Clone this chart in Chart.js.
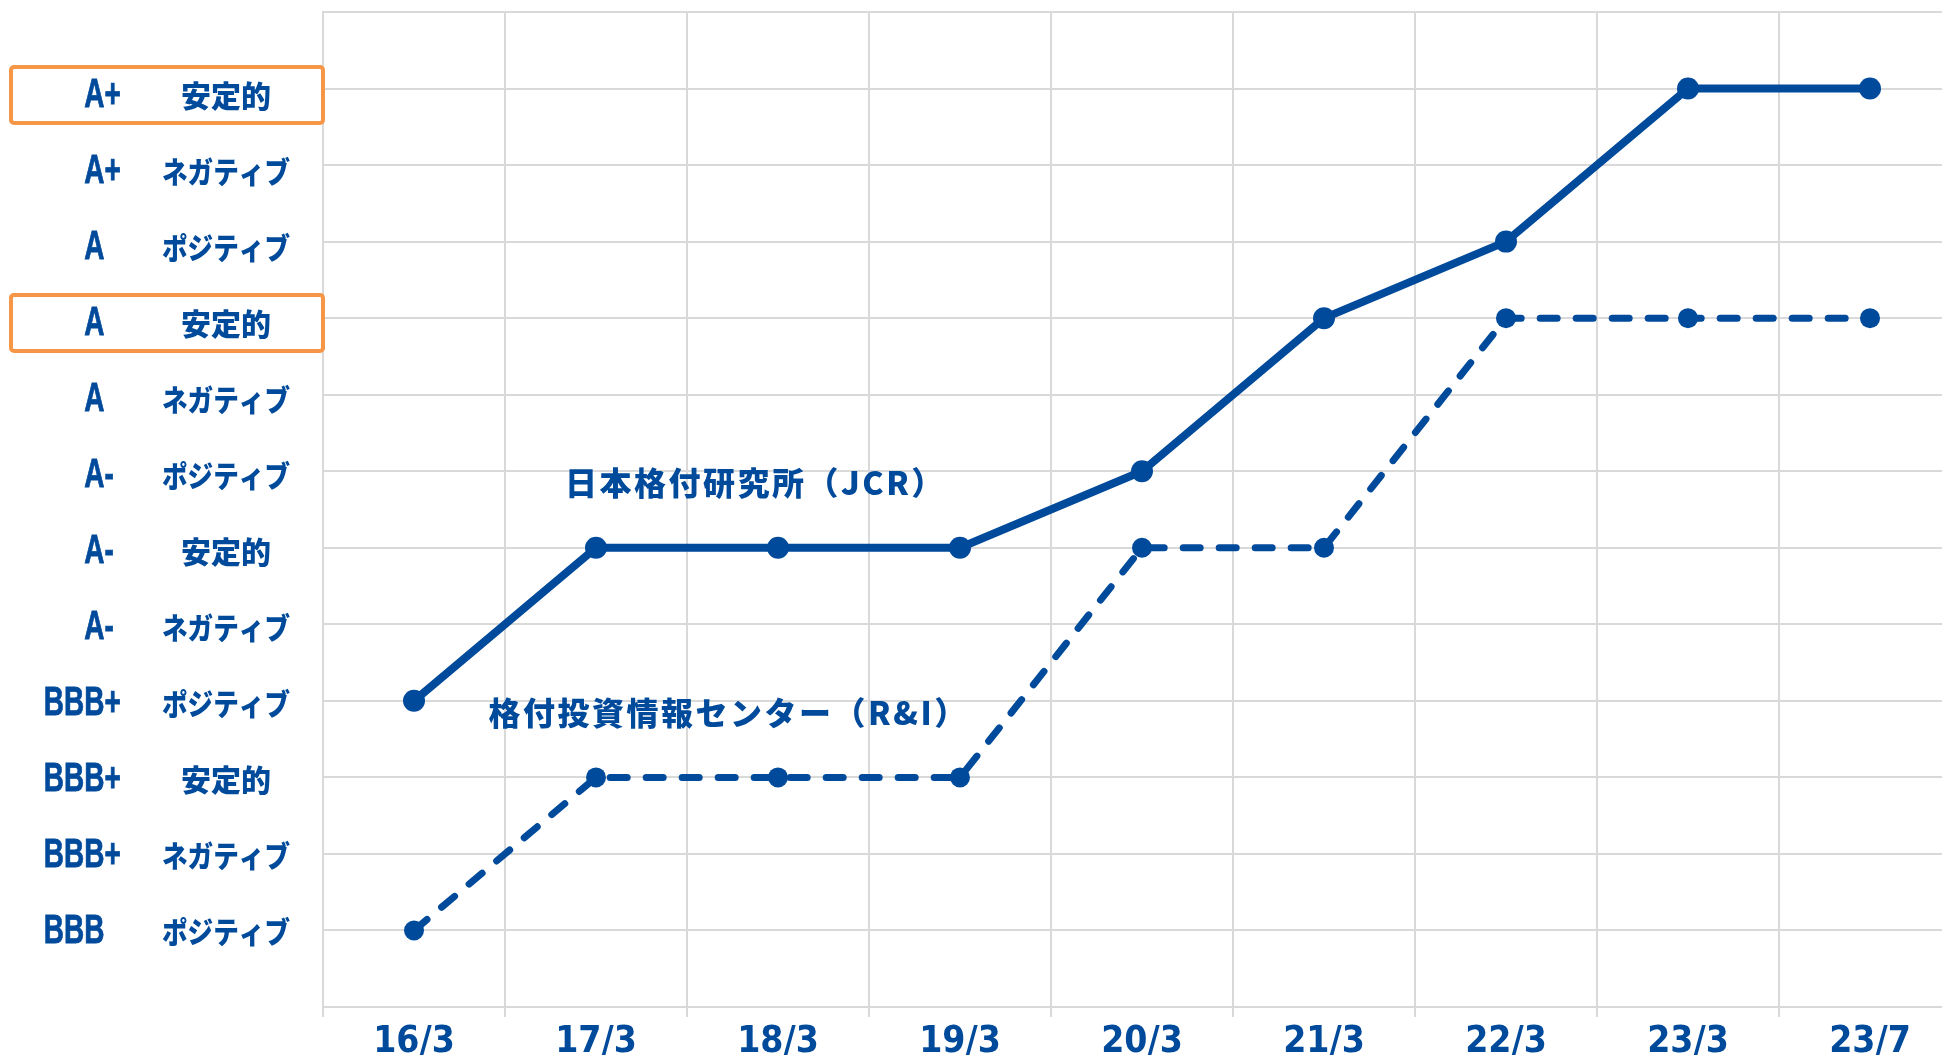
<!DOCTYPE html>
<html lang="ja">
<head>
<meta charset="utf-8">
<script src="https://cdn.jsdelivr.net/npm/chart.js@4.4.0/dist/chart.umd.min.js"></script>
<style>
  html, body { margin: 0; padding: 0; background: #fff; overflow: hidden; }
  #wrap { width: 1972px; height: 1055px; }
</style>
</head>
<body>
<div id="wrap"><canvas id="ratingChart" width="1972" height="1055"></canvas></div>
<script>
// 期間
const periods = ['16/3', '17/3', '18/3', '19/3', '20/3', '21/3', '22/3', '23/3', '23/7'];
// 格付の段階 (1 = BBB ポジティブ ... 12 = A+ 安定的)
const ratingGrades = ['BBB', 'BBB+', 'BBB+', 'BBB+', 'A-', 'A-', 'A-', 'A', 'A', 'A', 'A+', 'A+'];
const ratingOutlooks = ['ポジティブ', 'ネガティブ', '安定的', 'ポジティブ', 'ネガティブ', '安定的',
                        'ポジティブ', 'ネガティブ', '安定的', 'ポジティブ', 'ネガティブ', '安定的'];
const jcrValues = [4, 6, 6, 6, 7, 9, 10, 12, 12];
const riValues = [1, 3, 3, 3, 6, 6, 9, 9, 9];
const highlightedLevels = [12, 9];
const seriesNames = ['日本格付研究所（JCR）', '格付投資情報センター（R&I）'];

const BLUE = '#004A9B';
const GRID = '#D9D9D9';
const ORANGE = '#F79646';
const LATIN = '"Liberation Sans", Arial, sans-serif';
const CONDENSED = '"DejaVu Sans Condensed", "Liberation Sans", Arial, sans-serif';
const CJK = '"Noto Sans CJK JP", sans-serif';

// ラベルは目盛り線より少し下にずれている (上ほど大きく)
function labelY(scale, level) {
  return scale.getPixelForValue(level) + 0.7 + 0.56 * level;
}

// y軸ラベル (格付 + 見通し) と枠、系列名を描く
const ratingLabels = {
  id: 'ratingLabels',
  afterDraw(chart) {
    const ctx = chart.ctx;
    const y = chart.scales.y;
    const x = chart.scales.x;
    const squeeze = 0.7; // 細めの書体に見せる
    ctx.save();
    ctx.fillStyle = BLUE;
    ctx.strokeStyle = BLUE;
    ctx.textBaseline = 'middle';

    ratingGrades.forEach((grade, i) => {
      const py = labelY(y, i + 1);
      ctx.font = 'bold 40px ' + LATIN;
      const base = grade.replace(/[+-]$/, '');
      const bx = 104.5 - ctx.measureText(base).width * squeeze;
      ctx.save();
      ctx.translate(bx, py);
      ctx.scale(squeeze, 1);
      ctx.textAlign = 'left';
      ctx.lineWidth = 0.8;
      ctx.fillText(grade, 0, 0);
      ctx.strokeText(grade, 0, 0);
      ctx.restore();

      ctx.font = '900 30px ' + CJK;
      ctx.textAlign = 'center';
      ctx.fillText(ratingOutlooks[i], 226, py, 128);
    });

    // 枠
    ctx.strokeStyle = ORANGE;
    ctx.lineWidth = 4;
    highlightedLevels.forEach(level => {
      const cy = labelY(y, level) - 1;
      ctx.beginPath();
      ctx.roundRect(11, cy - 28, 312, 56, 3);
      ctx.stroke();
    });

    // 系列名
    ctx.font = '900 32px ' + CJK;
    ctx.letterSpacing = '2.5px';
    ctx.textAlign = 'left';
    ctx.fillText(seriesNames[0], x.getPixelForValue(0.83), y.getPixelForValue(6.85));
    ctx.fillText(seriesNames[1], x.getPixelForValue(0.41), y.getPixelForValue(3.84));
    ctx.restore();
  }
};

const ctx = document.getElementById('ratingChart');
new Chart(ctx, {
  type: 'line',
  data: {
    labels: periods,
    datasets: [
      {
        label: seriesNames[0],
        data: jcrValues,
        borderColor: BLUE,
        backgroundColor: BLUE,
        borderWidth: 8,
        pointRadius: 11,
        pointBorderWidth: 0,
        pointBackgroundColor: BLUE,
        tension: 0
      },
      {
        label: seriesNames[1],
        data: riValues,
        borderColor: BLUE,
        backgroundColor: BLUE,
        borderWidth: 7,
        borderDash: [17, 19],
        borderCapStyle: 'round',
        pointRadius: 10,
        pointBorderWidth: 0,
        pointBackgroundColor: BLUE,
        tension: 0
      }
    ]
  },
  options: {
    responsive: false,
    devicePixelRatio: 1,
    animation: false,
    layout: { padding: { top: 12, left: 0, right: 0, bottom: 0 } },
    plugins: {
      legend: { display: false },
      tooltip: { enabled: false }
    },
    scales: {
      x: {
        offset: true,
        grid: { offset: true, color: GRID, lineWidth: 2, tickLength: 10 },
        border: { color: GRID, width: 2 },
        ticks: {
          color: BLUE,
          padding: 3,
          font: { family: CONDENSED, size: 37, weight: 'bold' }
        },
        afterFit(scale) { scale.height = 48; }
      },
      y: {
        min: 0,
        max: 13,
        ticks: { display: false, stepSize: 1 },
        grid: { color: GRID, lineWidth: 2, drawTicks: false },
        border: { color: GRID, width: 2 },
        afterFit(scale) { scale.width = 323; }
      }
    }
  },
  plugins: [ratingLabels]
});
</script>
</body>
</html>
